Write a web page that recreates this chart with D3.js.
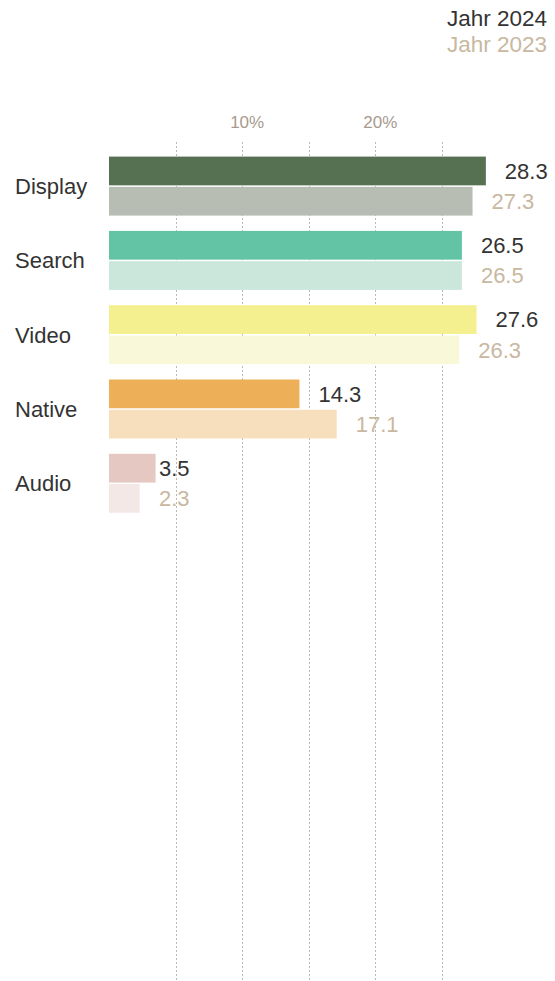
<!DOCTYPE html>
<html>
<head>
<meta charset="utf-8">
<script src="https://cdn.jsdelivr.net/npm/d3@7"></script>
<style>
  html, body { margin: 0; padding: 0; background: #fff; }
  svg { display: block; font-family: "Liberation Sans", Arial, sans-serif; }
</style>
</head>
<body>
<svg id="chart" width="555" height="981"></svg>
<script>
// Ad formats: share per year
const categories = ["Display", "Search", "Video", "Native", "Audio"];
const values2024 = [28.3, 26.5, 27.6, 14.3, 3.5];
const values2023 = [27.3, 26.5, 26.3, 17.1, 2.3];
const colors2024 = ["#557152", "#63c4a5", "#f5f08f", "#edaf57", "#e5c8c2"];
const colors2023 = ["#b8bdb3", "#cbe7dc", "#f9f9d9", "#f7dfbd", "#f4e8e6"];
const seriesNames = ["Jahr 2024", "Jahr 2023"];
const gridTicks = [5, 10, 15, 20, 25];
const labelTicks = [10, 20];

const W = 555, H = 981;
const svg = d3.select("#chart");

const x = d3.scaleLinear().domain([0, 30]).range([109, 508.5]);
const y = d3.scaleBand().domain(categories).range([156.6, 512.8]).paddingInner(0.206);
const ySeries = d3.scaleBand().domain(["2024", "2023"]).range([0, y.bandwidth()]).paddingInner(0.05);

const rows = categories.map((c, i) => ({
  cat: c,
  bars: [
    { key: "2024", value: values2024[i], color: colors2024[i], text: "#333333" },
    { key: "2023", value: values2023[i], color: colors2023[i], text: "#c8b89f" }
  ]
}));

// dotted vertical grid
svg.append("g").selectAll("line").data(gridTicks).join("line")
  .attr("x1", d => Math.round(x(d)) + 0.5)
  .attr("x2", d => Math.round(x(d)) + 0.5)
  .attr("y1", 142).attr("y2", H)
  .attr("stroke", "#b9b9b9").attr("stroke-width", 1)
  .attr("stroke-dasharray", "2,2");

// percent labels above the grid
svg.append("g").selectAll("text").data(labelTicks).join("text")
  .attr("x", d => x(d) + 5).attr("y", 128)
  .attr("text-anchor", "middle")
  .attr("font-size", 17).attr("fill", "#a89a8e")
  .text(d => d + "%");

// legend
svg.append("g").selectAll("text").data(seriesNames).join("text")
  .attr("x", 547).attr("y", (d, i) => 26 + i * 26)
  .attr("text-anchor", "end")
  .attr("font-size", 22.5)
  .attr("fill", (d, i) => i === 0 ? "#333333" : "#c8b89f")
  .text(d => d);

const groups = svg.append("g").selectAll("g").data(rows).join("g")
  .attr("transform", d => `translate(0,${y(d.cat)})`);

groups.selectAll("rect").data(d => d.bars).join("rect")
  .attr("x", x(0))
  .attr("y", d => ySeries(d.key))
  .attr("width", d => x(d.value) - x(0))
  .attr("height", ySeries.bandwidth())
  .attr("fill", d => d.color);

// value labels: after the bar end; short bars share a fixed label column
groups.selectAll("text.val").data(d => d.bars).join("text")
  .attr("class", "val")
  .attr("x", d => d.value < 5 ? x(3.75) : x(d.value) + 19)
  .attr("y", d => ySeries(d.key) + ySeries.bandwidth() / 2)
  .attr("dy", "0.36em")
  .attr("font-size", 22)
  .attr("fill", d => d.text)
  .text(d => d.value.toFixed(1));

groups.append("text")
  .attr("x", 15)
  .attr("y", y.bandwidth() / 2)
  .attr("dy", "0.36em")
  .attr("font-size", 22)
  .attr("fill", "#333333")
  .text(d => d.cat);
</script>
</body>
</html>
